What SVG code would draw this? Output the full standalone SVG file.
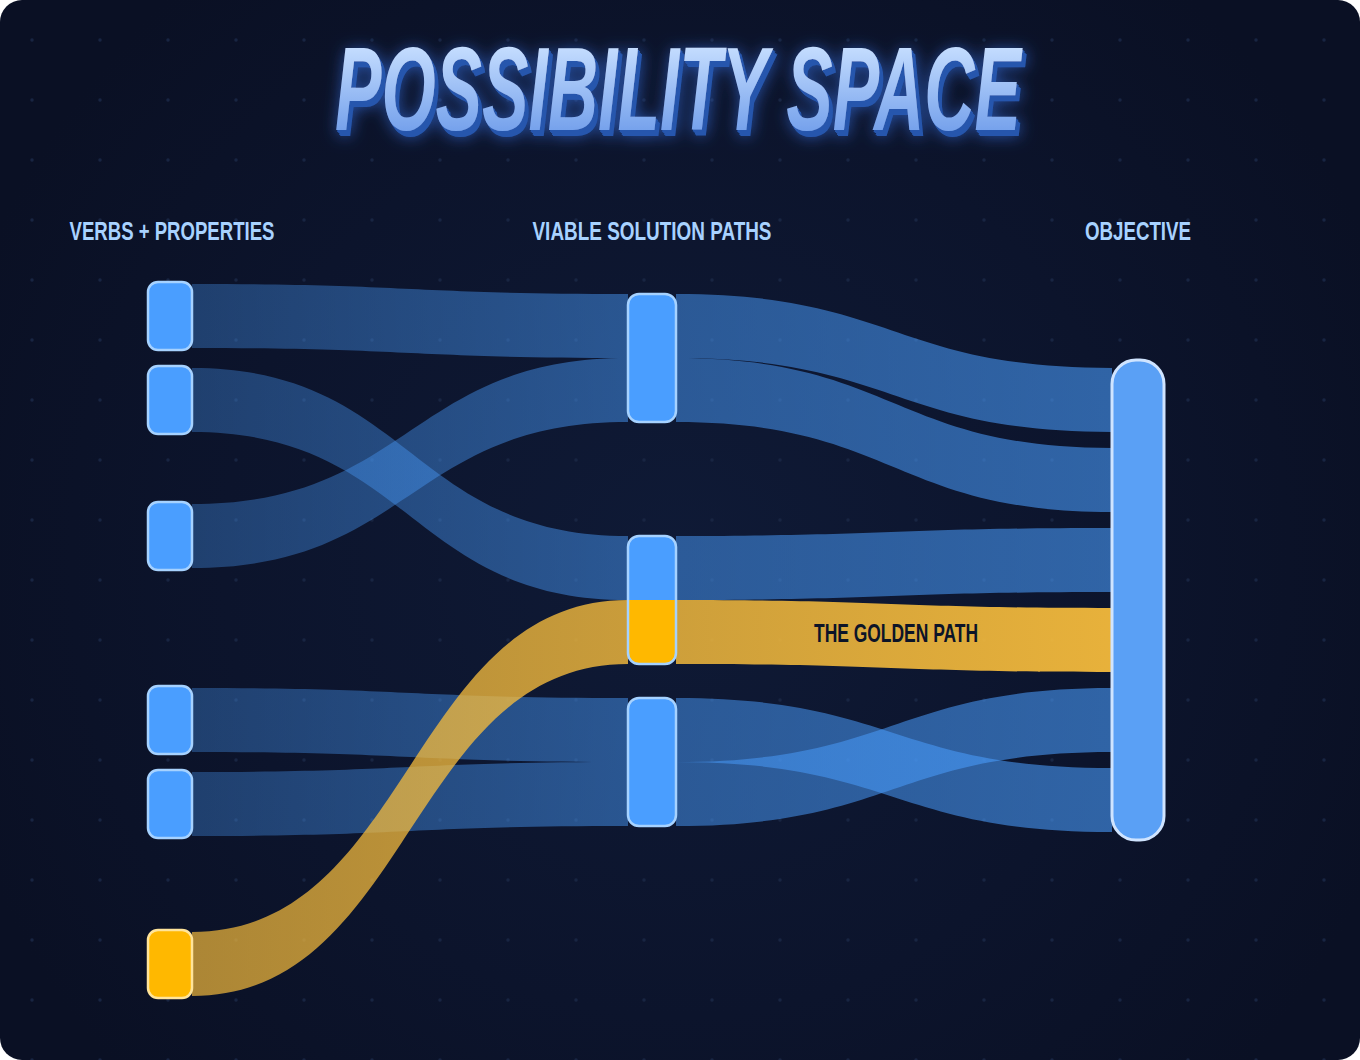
<svg xmlns="http://www.w3.org/2000/svg" width="1360" height="1060" viewBox="0 0 1360 1060">
  <defs>
    <radialGradient id="bg" cx="680" cy="560" r="760" gradientUnits="userSpaceOnUse">
      <stop offset="0" stop-color="#0f1a36"/>
      <stop offset="0.6" stop-color="#0c142c"/>
      <stop offset="1" stop-color="#0a1024"/>
    </radialGradient>
    <pattern id="dots" width="68" height="60" patternUnits="userSpaceOnUse">
      <circle cx="32" cy="40" r="1.7" fill="#182542"/>
    </pattern>
    <linearGradient id="gBlueL" gradientUnits="userSpaceOnUse" x1="192" y1="0" x2="628" y2="0">
      <stop offset="0" stop-color="#4a9eff" stop-opacity="0.32"/>
      <stop offset="1" stop-color="#4a9eff" stop-opacity="0.47"/>
    </linearGradient>
    <linearGradient id="gBlueR" gradientUnits="userSpaceOnUse" x1="676" y1="0" x2="1112" y2="0">
      <stop offset="0" stop-color="#4a9eff" stop-opacity="0.49"/>
      <stop offset="1" stop-color="#4a9eff" stop-opacity="0.58"/>
    </linearGradient>
    <linearGradient id="gGoldL" gradientUnits="userSpaceOnUse" x1="192" y1="0" x2="628" y2="0">
      <stop offset="0" stop-color="#f8bd3c" stop-opacity="0.68"/>
      <stop offset="1" stop-color="#f8bd3c" stop-opacity="0.8"/>
    </linearGradient>
    <linearGradient id="gGoldR" gradientUnits="userSpaceOnUse" x1="676" y1="0" x2="1112" y2="0">
      <stop offset="0" stop-color="#f8bd3c" stop-opacity="0.82"/>
      <stop offset="1" stop-color="#f8bd3c" stop-opacity="0.93"/>
    </linearGradient>
    <linearGradient id="split" x1="0" y1="0" x2="0" y2="1">
      <stop offset="0.5" stop-color="#4a9eff"/>
      <stop offset="0.5" stop-color="#ffb800"/>
    </linearGradient>
    <linearGradient id="titleFill" gradientUnits="userSpaceOnUse" x1="0" y1="45" x2="0" y2="130">
      <stop offset="0" stop-color="#c6deff"/>
      <stop offset="1" stop-color="#76a2ec"/>
    </linearGradient>
    <filter id="extrude" filterUnits="userSpaceOnUse" x="290" y="10" width="780" height="160">
      <feOffset in="SourceAlpha" dx="1" dy="1.5" result="o1"/>
      <feOffset in="SourceAlpha" dx="2" dy="3" result="o2"/>
      <feOffset in="SourceAlpha" dx="3" dy="4.5" result="o3"/>
      <feOffset in="SourceAlpha" dx="4" dy="6" result="o4"/>
      <feMerge result="ext">
        <feMergeNode in="o1"/><feMergeNode in="o2"/><feMergeNode in="o3"/><feMergeNode in="o4"/>
      </feMerge>
      <feFlood flood-color="#2857ad"/>
      <feComposite in2="ext" operator="in" result="extc"/>
      <feGaussianBlur in="ext" stdDeviation="8" result="blur"/>
      <feFlood flood-color="#3d7fff" flood-opacity="0.6"/>
      <feComposite in2="blur" operator="in" result="glow"/>
      <feMerge>
        <feMergeNode in="glow"/><feMergeNode in="extc"/><feMergeNode in="SourceGraphic"/>
      </feMerge>
    </filter>
    <style>
      .title { font-family: "Liberation Sans Narrow", "Liberation Sans", "DejaVu Sans Condensed", sans-serif; font-weight: bold; font-style: italic; font-size: 118px; }
      .hdr { font-family: "Liberation Sans Narrow", "Liberation Sans", "DejaVu Sans Condensed", sans-serif; font-weight: bold; font-size: 26px; fill: #a8d2ff; text-anchor: middle; }
      .lbl { font-family: "Liberation Sans Narrow", "Liberation Sans", "DejaVu Sans Condensed", sans-serif; font-weight: bold; font-size: 25px; fill: #0c1428; text-anchor: middle; }
      .node { fill: #4a9eff; stroke: #a6d2ff; stroke-width: 2.5; }
      .gold { fill: #ffb800; stroke: #ffe49a; stroke-width: 2.5; }
      .fbl { fill: url(#gBlueL); }
      .fbr { fill: url(#gBlueR); }
      .fgl { fill: url(#gGoldL); }
      .fgr { fill: url(#gGoldR); }
    </style>
  </defs>

  <rect x="0" y="0" width="1360" height="1060" fill="#ffffff"/>
  <rect x="0" y="0" width="1360" height="1060" rx="22" fill="url(#bg)"/>
  <rect x="0" y="0" width="1360" height="1060" rx="22" fill="url(#dots)"/>

  <g id="title">
    <text class="title" x="678" y="130" text-anchor="middle" textLength="686" lengthAdjust="spacingAndGlyphs" fill="url(#titleFill)" filter="url(#extrude)">POSSIBILITY SPACE</text>
  </g>

  <g id="headers">
    <text class="hdr" x="172" y="240" textLength="205" lengthAdjust="spacingAndGlyphs">VERBS + PROPERTIES</text>
    <text class="hdr" x="652" y="240" textLength="239" lengthAdjust="spacingAndGlyphs">VIABLE SOLUTION PATHS</text>
    <text class="hdr" x="1138" y="240" textLength="106" lengthAdjust="spacingAndGlyphs">OBJECTIVE</text>
  </g>

  <g id="connectors">
    <path class="fbl" d="M192,284 C410,284 410,294 628,294 L628,358 C410,358 410,348 192,348 Z"/>
    <path class="fbl" d="M192,368 C410,368 410,536 628,536 L628,600 C410,600 410,432 192,432 Z"/>
    <path class="fbl" d="M192,504 C410,504 410,358 628,358 L628,422 C410,422 410,568 192,568 Z"/>
    <path class="fbl" d="M192,688 C410,688 410,698 628,698 L628,762 C410,762 410,752 192,752 Z"/>
    <path class="fbl" d="M192,772 C410,772 410,762 628,762 L628,826 C410,826 410,836 192,836 Z"/>
    <path class="fgl" d="M192,932 C410,932 410,600 628,600 L628,664 C410,664 410,996 192,996 Z"/>
    <path class="fbr" d="M676,294 C894,294 894,368 1112,368 L1112,432 C894,432 894,358 676,358 Z"/>
    <path class="fbr" d="M676,358 C894,358 894,448 1112,448 L1112,512 C894,512 894,422 676,422 Z"/>
    <path class="fbr" d="M676,536 C894,536 894,528 1112,528 L1112,592 C894,592 894,600 676,600 Z"/>
    <path class="fgr" d="M676,600 C894,600 894,608 1112,608 L1112,672 C894,672 894,664 676,664 Z"/>
    <path class="fbr" d="M676,698 C894,698 894,768 1112,768 L1112,832 C894,832 894,762 676,762 Z"/>
    <path class="fbr" d="M676,762 C894,762 894,688 1112,688 L1112,752 C894,752 894,826 676,826 Z"/>
    <text class="lbl" x="896" y="642" textLength="164" lengthAdjust="spacingAndGlyphs">THE GOLDEN PATH</text>
  </g>

  <g id="verb1"><rect class="node" x="148" y="282" width="44" height="68" rx="10"/></g>
  <g id="verb2"><rect class="node" x="148" y="366" width="44" height="68" rx="10"/></g>
  <g id="verb3"><rect class="node" x="148" y="502" width="44" height="68" rx="10"/></g>
  <g id="verb4"><rect class="node" x="148" y="686" width="44" height="68" rx="10"/></g>
  <g id="verb5"><rect class="node" x="148" y="770" width="44" height="68" rx="10"/></g>
  <g id="verb6"><rect class="gold" x="148" y="930" width="44" height="68" rx="10"/></g>

  <g id="path1"><rect class="node" x="628" y="294" width="48" height="128" rx="11"/></g>
  <g id="path2"><rect x="628" y="536" width="48" height="128" rx="11" fill="url(#split)" stroke="#a6d2ff" stroke-width="2.5"/></g>
  <g id="path3"><rect class="node" x="628" y="698" width="48" height="128" rx="11"/></g>

  <g id="objective"><rect x="1112" y="360" width="52" height="480" rx="24" fill="#5aa0f5" stroke="#cfe4ff" stroke-width="3"/></g>
</svg>
